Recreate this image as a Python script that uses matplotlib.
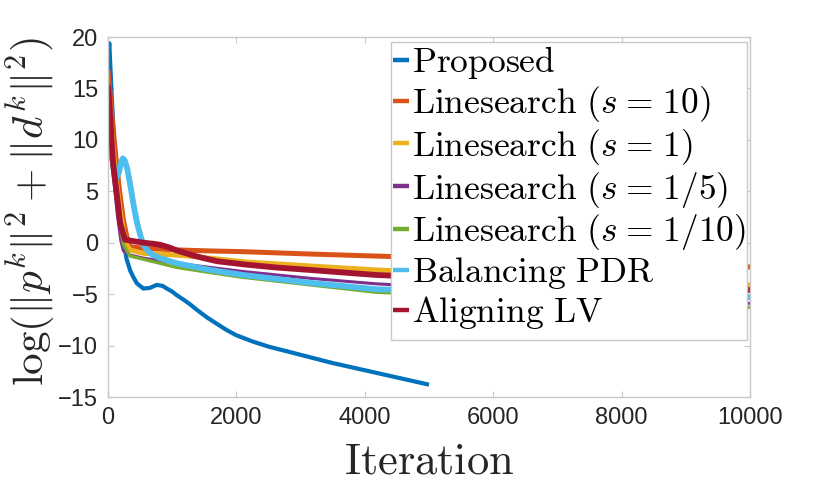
import numpy as np
import matplotlib
matplotlib.use('Agg')
import matplotlib.pyplot as plt
from matplotlib.patches import Rectangle

plt.rcParams['mathtext.fontset'] = 'cm'
plt.rcParams['font.family'] = ['Liberation Sans', 'DejaVu Sans']

# --- data ---
prop_x = [0, 20, 60, 110, 160, 210, 240, 290, 345, 400, 450, 550, 650, 760, 850, 915,
          1000, 1070, 1180, 1280, 1400, 1550, 1700, 1850, 2000, 2250, 2500, 3000, 3500, 4000, 4500, 5000]
prop_y = [17.6, 19.4, 14.0, 8.0, 3.5, 0.8, 0.2, -1.6, -2.7, -3.4, -3.95, -4.45, -4.4, -4.1, -4.2, -4.45,
          -4.75, -5.1, -5.55, -6.0, -6.6, -7.3, -7.9, -8.5, -9.0, -9.6, -10.1, -10.9, -11.7, -12.4, -13.1, -13.8]

ls10_x = [0, 60, 120, 180, 240, 300, 343, 550, 1070, 1590, 2108, 3146, 4185, 10000]
ls10_y = [16.8, 12.5, 8.5, 5.0, 2.2, 0.4, -0.39, -0.55, -0.7, -0.8, -0.87, -1.1, -1.3, -2.36]

ls1_x = [0, 60, 120, 180, 240, 300, 343, 550, 1070, 1590, 2108, 3146, 4185, 10000]
ls1_y = [14.5, 10.5, 6.5, 3.5, 1.2, -0.3, -0.7, -1.03, -1.2, -1.5, -1.85, -2.26, -2.65, -4.1]

ls5_x = [0, 50, 100, 150, 200, 239, 343, 550, 1070, 1590, 2108, 3146, 4185, 10000]
ls5_y = [10.5, 8.0, 5.5, 2.5, 0.2, -0.78, -1.2, -1.5, -2.0, -2.4, -2.8, -3.46, -4.0, -5.9]

ls110_x = [0, 60, 120, 180, 240, 343, 550, 1070, 1590, 2108, 3146, 4185, 10000]
ls110_y = [13.5, 9.5, 5.5, 2.0, -0.2, -1.3, -1.6, -2.4, -2.9, -3.37, -4.1, -4.82, -6.3]

bpdr_x = [0, 60, 120, 170, 200, 230, 260, 300, 350, 400, 450, 500, 550, 620, 700, 810, 1070,
          1590, 2108, 3146, 4185, 10000]
bpdr_y = [12.0, 8.5, 6.2, 6.8, 7.7, 8.2, 8.0, 7.2, 5.5, 3.6, 2.0, 0.8, -0.2, -0.8, -1.2, -1.5, -2.0,
          -2.65, -3.14, -3.9, -4.53, -5.3]

alv_x = [0, 80, 190, 264, 400, 550, 700, 810, 950, 1070, 1200, 1334, 1490, 1700, 2108,
         2600, 3146, 4185, 10000]
alv_y = [15.3, 7.7, 1.9, 0.3, 0.15, 0.0, -0.1, -0.2, -0.45, -0.75, -1.0, -1.25, -1.5, -1.8, -2.1,
         -2.4, -2.65, -3.14, -4.6]

sp = r'\hspace{0.1}'
labels = [r'$\mathrm{Proposed}$',
          r'$\mathrm{Linesearch}\ (s' + sp + '=' + sp + '10)$',
          r'$\mathrm{Linesearch}\ (s' + sp + '=' + sp + '1)$',
          r'$\mathrm{Linesearch}\ (s' + sp + '=' + sp + '1/5)$',
          r'$\mathrm{Linesearch}\ (s' + sp + '=' + sp + '1/10)$',
          r'$\mathrm{Balancing\ PDR}$',
          r'$\mathrm{Aligning\ LV}$']

fig = plt.figure(figsize=(8.3, 4.91), dpi=100)
ax = fig.add_axes([108/830, 1 - 397/491, 642/830, 360/491])

series = [(prop_x, prop_y, '#0072BD', 3.0),
          (ls10_x, ls10_y, '#D95319', 3.6),
          (ls1_x, ls1_y, '#EDB120', 3.6),
          (ls5_x, ls5_y, '#7E2F8E', 2.2),
          (ls110_x, ls110_y, '#77AC30', 2.4),
          (bpdr_x, bpdr_y, '#4DBEEE', 4.2),
          (alv_x, alv_y, '#A2142F', 4.2)]
for (x, y, c, lw), lab in zip(series, labels):
    ax.plot(x, y, color=c, lw=lw, label=lab, solid_capstyle='butt', solid_joinstyle='round')

ax.set_xlim(0, 10000)
ax.set_ylim(-15, 20)
ax.set_xticks(np.arange(0, 10001, 2000))
ax.set_yticks(np.arange(-15, 21, 5))
ax.tick_params(direction='in', length=4.5, top=True, right=True, labelsize=17,
               color='#c8c8c8', labelcolor='#262626', pad=7)
for s in ax.spines.values():
    s.set_color('#c8c8c8')
    s.set_linewidth(1.0)

ax.set_xlabel(r'$\mathrm{Iteration}$', fontsize=32, color='#262626', va='baseline')
ax.xaxis.set_label_coords(0.5, (397 - 474) / 360)
ax.set_ylabel(r'$\log(\|p^k\|^2+\|d^k\|^2)$', fontsize=31, color='#262626', va='center')
ax.yaxis.set_label_coords((30 - 108) / 642, 0.516)

# legend box (MATLAB style, with extra room at the bottom)
ax.add_patch(Rectangle((391/830, 1 - 340/491), 356/830, 298/491, transform=fig.transFigure,
                       facecolor='white', edgecolor='#c8c8c8', lw=1.0, zorder=4.5, clip_on=False))
leg = ax.legend(loc='upper left', bbox_to_anchor=(391/830, 1 - 42/491),
                bbox_transform=fig.transFigure, borderaxespad=0, fontsize=25.5,
                handlelength=0.45, handletextpad=0.08, labelspacing=0.08,
                borderpad=0.06, frameon=False)
for h in leg.get_lines():
    h.set_linewidth(3.2)

fig.savefig('out.png', dpi=100)
